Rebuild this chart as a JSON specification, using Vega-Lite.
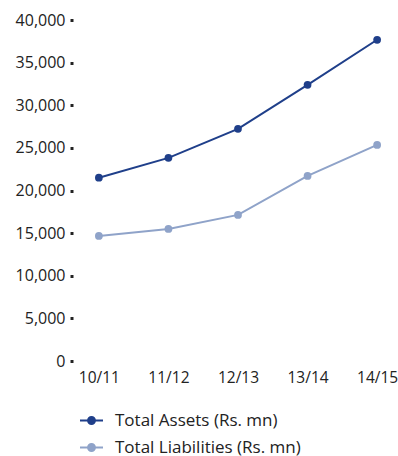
{
  "$schema": "https://vega.github.io/schema/vega-lite/v6.json",
  "width": 320,
  "height": 341,
  "autosize": "none",
  "padding": {"left": 78, "top": 20, "right": 0, "bottom": 95},
  "background": "white",
  "config": {"view": {"stroke": null}, "font": "Open Sans"},
  "data": {"values": [
    {"year": "10/11", "series": "Total Assets (Rs. mn)", "value": 21500},
    {"year": "11/12", "series": "Total Assets (Rs. mn)", "value": 23830},
    {"year": "12/13", "series": "Total Assets (Rs. mn)", "value": 27230},
    {"year": "13/14", "series": "Total Assets (Rs. mn)", "value": 32400},
    {"year": "14/15", "series": "Total Assets (Rs. mn)", "value": 37680},
    {"year": "10/11", "series": "Total Liabilities (Rs. mn)", "value": 14670},
    {"year": "11/12", "series": "Total Liabilities (Rs. mn)", "value": 15490},
    {"year": "12/13", "series": "Total Liabilities (Rs. mn)", "value": 17140},
    {"year": "13/14", "series": "Total Liabilities (Rs. mn)", "value": 21710},
    {"year": "14/15", "series": "Total Liabilities (Rs. mn)", "value": 25350}
  ]},
  "mark": {"type": "line", "strokeWidth": 2, "point": {"size": 60, "filled": true}},
  "encoding": {
    "x": {"field": "year", "type": "ordinal", "scale": {"type": "point", "padding": 0.3},
      "axis": {"title": null, "domain": false, "ticks": false, "labelAngle": 0, "labelFontSize": 15.5, "labelColor": "#222", "labelPadding": 9, "grid": false}},
    "y": {"field": "value", "type": "quantitative", "scale": {"domain": [0, 40000], "nice": false},
      "axis": {"title": null, "domain": false, "grid": false, "values": [0,5000,10000,15000,20000,25000,30000,35000,40000], "format": ",d", "offset": 5, "tickSize": 3, "tickWidth": 3, "tickColor": "#222", "labelPadding": 5, "labelFontSize": 16, "labelColor": "#222"}},
    "color": {"field": "series", "type": "nominal",
      "scale": {"domain": ["Total Assets (Rs. mn)", "Total Liabilities (Rs. mn)"], "range": ["#1f3f8a", "#8fa3c9"]},
      "legend": {"title": null, "orient": "none", "legendX": 1, "legendY": 388, "direction": "vertical",
        "symbolType": "M-1,0L1,0M-0.3,0A0.3,0.3,0,1,1,0.3,0A0.3,0.3,0,1,1,-0.3,0Z",
        "symbolSize": 529, "symbolStrokeWidth": 2, "labelFontSize": 17, "labelLimit": 320, "labelColor": "#222", "labelOffset": 11, "rowPadding": 6,
        "encode": {"symbols": {"update": {"fill": {"scale": "color", "field": "value"}}}}}}
  }
}
